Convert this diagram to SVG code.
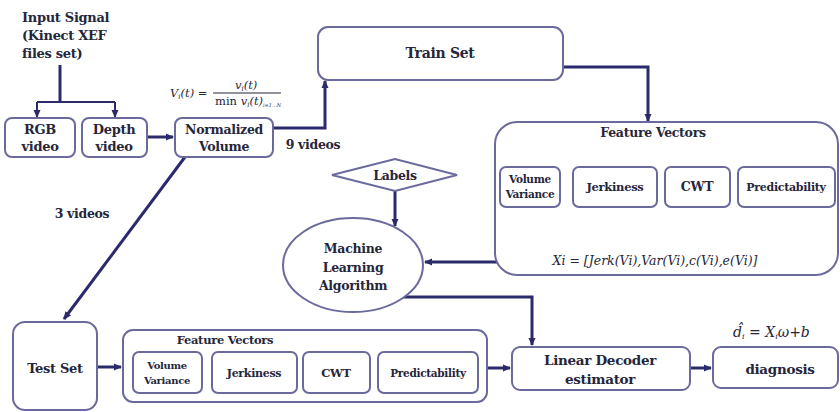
<svg xmlns="http://www.w3.org/2000/svg" width="840" height="412" viewBox="0 0 840 412">
<defs>
<marker id="ah" markerWidth="8" markerHeight="8" refX="7" refY="4" orient="auto" markerUnits="userSpaceOnUse">
<path d="M0,0.5 L8,4 L0,7.5 Z" fill="#2b2a6b"/>
</marker>
<style>
.box{fill:#fff;stroke:#6b6a9c;stroke-width:2}
.ln{fill:none;stroke:#2b2a6b;stroke-width:3}
.ln2{fill:none;stroke:#2b2a6b;stroke-width:2}
.t{font-family:'DejaVu Serif', serif;font-weight:bold;fill:#26263a;text-anchor:middle;letter-spacing:-0.3px}
.f{font-family:'DejaVu Serif', serif;font-style:italic;fill:#26263a}
</style>
</defs>
<rect width="840" height="412" fill="#fff"/>

<g id="connectors">
<path class="ln" d="M60,65 V102"/>
<path class="ln2" d="M37,102 H115" />
<path class="ln2" d="M37,102 V117" marker-end="url(#ah)"/>
<path class="ln2" d="M115,102 V117" marker-end="url(#ah)"/>
<path class="ln" d="M147,137 H173" marker-end="url(#ah)"/>
<path class="ln" d="M273,128 H325 V81" marker-end="url(#ah)"/>
<path class="ln" d="M563,67 H648 V121" marker-end="url(#ah)"/>
<path class="ln2" d="M543,150 H777"/>
<path class="ln2" d="M543,150 V166" marker-end="url(#ah)"/>
<path class="ln2" d="M622,150 V166" marker-end="url(#ah)"/>
<path class="ln2" d="M699,150 V166" marker-end="url(#ah)"/>
<path class="ln2" d="M777,150 V166" marker-end="url(#ah)"/>
<path class="ln2" d="M543,207 V238 H777 V207 M612,207 V238 M699,207 V238"/>
<path class="ln" d="M497,262 H425" marker-end="url(#ah)"/>
<path class="ln" d="M395,191 V226" marker-end="url(#ah)"/>
<path class="ln" d="M403,297 H532 V345" marker-end="url(#ah)"/>
<path class="ln" d="M185,157 L64,319" marker-end="url(#ah)"/>
<path class="ln" d="M97,367 H121" marker-end="url(#ah)"/>
<path class="ln" d="M487,368 H510" marker-end="url(#ah)"/>
<path class="ln" d="M690,368 H711" marker-end="url(#ah)"/>
</g>

<g id="input">
<text class="t" x="22" y="22" font-size="13" style="text-anchor:start">Input Signal</text>
<text class="t" x="22" y="40" font-size="13" style="text-anchor:start">(Kinect XEF</text>
<text class="t" x="22" y="58" font-size="13" style="text-anchor:start">files set)</text>
</g>

<g id="rgb">
<rect class="box" x="5" y="118" width="70" height="39" rx="7"/>
<text class="t" x="40" y="134" font-size="13">RGB</text>
<text class="t" x="40" y="151" font-size="13">video</text>
</g>

<g id="depth">
<rect class="box" x="82" y="118" width="65" height="39" rx="7"/>
<text class="t" x="114" y="134" font-size="13">Depth</text>
<text class="t" x="114" y="151" font-size="13">video</text>
</g>

<g id="normalized">
<rect class="box" x="175" y="118" width="98" height="39" rx="7"/>
<text class="t" x="224" y="134" font-size="12.5">Normalized</text>
<text class="t" x="224" y="151" font-size="12.5">Volume</text>
<text class="f" x="170" y="97" font-size="11.5">V<tspan font-size="7" dy="2">i</tspan><tspan dy="-2">(t) =</tspan></text>
<line x1="213" y1="93" x2="281" y2="93" stroke="#26263a" stroke-width="1"/>
<text class="f" x="235" y="89" font-size="11.5">v<tspan font-size="7" dy="2">i</tspan><tspan dy="-2">(t)</tspan></text>
<text class="f" x="215" y="105" font-size="11.5"><tspan font-style="normal">min</tspan> v<tspan font-size="7" dy="2">i</tspan><tspan dy="-2">(t)</tspan><tspan font-size="5" dy="2">i=1...N</tspan></text>
<text class="t" x="313" y="149" font-size="12.5">9 videos</text>
<text class="t" x="82" y="218" font-size="12.5">3 videos</text>
</g>

<g id="trainset">
<rect class="box" x="318" y="27" width="245" height="53" rx="10"/>
<text class="t" x="440" y="58" font-size="14">Train Set</text>
</g>

<g id="train-features">
<rect class="box" x="495" y="122" width="343" height="153" rx="22"/>
<text class="t" x="653" y="137" font-size="12.5">Feature Vectors</text>
<rect class="box" x="500" y="167" width="60" height="40" rx="6"/>
<text class="t" x="530" y="183" font-size="10.5">Volume</text>
<text class="t" x="530" y="198" font-size="10.5">Variance</text>
<rect class="box" x="573" y="167" width="84" height="40" rx="6"/>
<text class="t" x="615" y="191" font-size="11.5">Jerkiness</text>
<rect class="box" x="665" y="167" width="65" height="40" rx="6"/>
<text class="t" x="697" y="191" font-size="12.5">CWT</text>
<rect class="box" x="738" y="167" width="97" height="40" rx="6"/>
<text class="t" x="786" y="191" font-size="11">Predictability</text>
<text class="f" x="655" y="265" font-size="12.5" text-anchor="middle">Xi = [Jerk(Vi),Var(Vi),c(Vi),e(Vi)]</text>
</g>

<g id="labels">
<polygon class="box" points="332,175 395,159 457,175 395,191"/>
<text class="t" x="395" y="180" font-size="12.5">Labels</text>
</g>

<g id="ml">
<ellipse class="box" cx="353" cy="265" rx="70" ry="47"/>
<text class="t" x="353" y="253" font-size="12.5">Machine</text>
<text class="t" x="353" y="272" font-size="12.5">Learning</text>
<text class="t" x="353" y="290" font-size="12.5">Algorithm</text>
</g>

<g id="testset">
<rect class="box" x="13" y="322" width="84" height="88" rx="12"/>
<text class="t" x="55" y="373" font-size="13">Test Set</text>
</g>

<g id="test-features">
<rect class="box" x="123" y="330" width="364" height="72" rx="10"/>
<text class="t" x="225" y="344" font-size="11.5">Feature Vectors</text>
<rect class="box" x="133" y="352" width="69" height="41" rx="6"/>
<text class="t" x="167" y="369" font-size="10">Volume</text>
<text class="t" x="167" y="384" font-size="10">Variance</text>
<rect class="box" x="212" y="352" width="85" height="41" rx="6"/>
<text class="t" x="254" y="377" font-size="11">Jerkiness</text>
<rect class="box" x="303" y="352" width="67" height="41" rx="6"/>
<text class="t" x="336" y="377" font-size="11.5">CWT</text>
<rect class="box" x="378" y="352" width="100" height="41" rx="6"/>
<text class="t" x="428" y="377" font-size="10.5">Predictability</text>
</g>

<g id="decoder">
<rect class="box" x="512" y="347" width="178" height="43" rx="8"/>
<text class="t" x="600" y="365" font-size="13.5">Linear Decoder</text>
<text class="t" x="600" y="384" font-size="13.5">estimator</text>
</g>

<g id="diagnosis">
<rect class="box" x="713" y="347" width="125" height="41" rx="8"/>
<text class="t" x="780" y="374" font-size="13.5">diagnosis</text>
<text class="f" x="733" y="337" font-size="14">d̂<tspan font-size="8" dy="2">i</tspan><tspan dy="-2" font-style="normal"> = </tspan>X<tspan font-size="8" dy="2">i</tspan><tspan dy="-2">ω</tspan><tspan font-style="normal">+</tspan>b</text>
</g>
</svg>
